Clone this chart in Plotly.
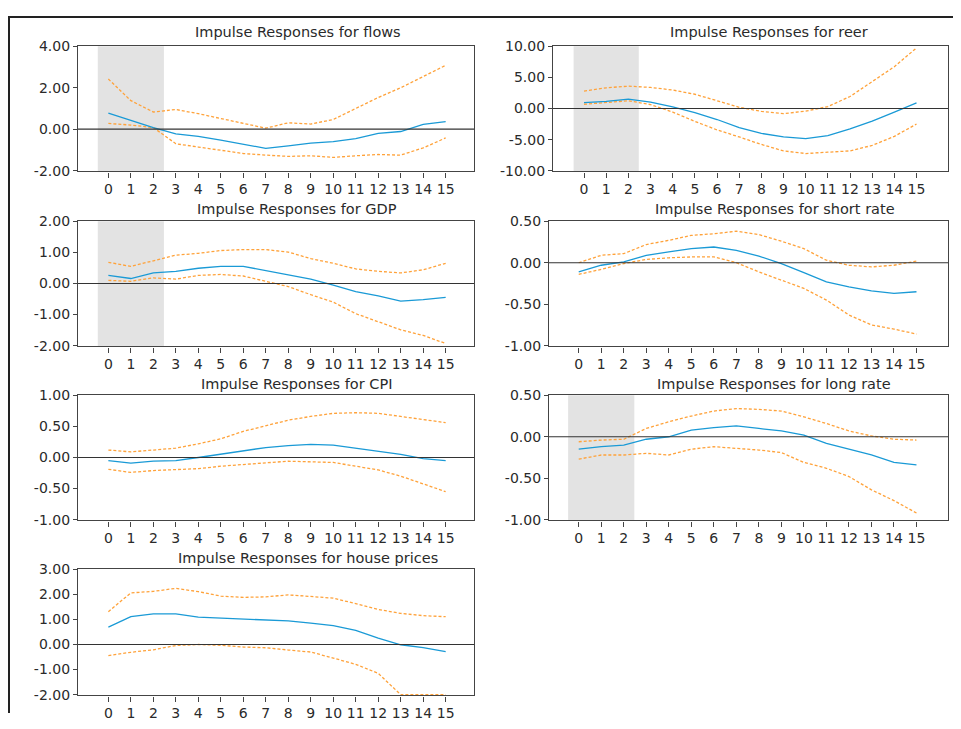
import plotly.graph_objects as go

# the page adds an 8px margin round the figure, so the figure is made that
# much smaller and placed using screen pixels minus the offset
OFF = 8
W, H = 961 - 2 * OFF, 729 - 2 * OFF

steps = list(range(16))

titles = ["flows", "reer", "GDP", "short rate", "CPI", "long rate", "house prices"]

flows = [0.78, 0.44, 0.08, -0.22, -0.34, -0.53, -0.73, -0.92, -0.80, -0.67, -0.60, -0.45, -0.20, -0.11, 0.23, 0.37]
flows_hi = [2.42, 1.38, 0.83, 0.95, 0.75, 0.52, 0.28, 0.05, 0.31, 0.25, 0.47, 1.00, 1.53, 2.00, 2.55, 3.08]
flows_lo = [0.28, 0.20, 0.08, -0.70, -0.86, -1.00, -1.17, -1.25, -1.31, -1.28, -1.36, -1.28, -1.22, -1.25, -0.90, -0.42]

reer = [0.94, 1.15, 1.50, 1.04, 0.26, -0.68, -1.77, -3.07, -4.00, -4.58, -4.84, -4.37, -3.28, -2.03, -0.57, 0.89]
reer_hi = [2.81, 3.33, 3.59, 3.39, 2.97, 2.29, 1.25, 0.20, -0.47, -0.83, -0.42, 0.31, 1.93, 4.32, 6.72, 9.74]
reer_lo = [0.68, 0.99, 1.25, 0.63, -0.57, -2.08, -3.44, -4.58, -5.78, -6.82, -7.24, -7.03, -6.82, -5.94, -4.48, -2.50]

gdp = [0.26, 0.16, 0.34, 0.39, 0.49, 0.55, 0.55, 0.42, 0.28, 0.14, -0.05, -0.26, -0.40, -0.57, -0.52, -0.45]
gdp_hi = [0.68, 0.55, 0.73, 0.91, 0.97, 1.06, 1.09, 1.09, 1.01, 0.80, 0.65, 0.47, 0.39, 0.34, 0.44, 0.65]
gdp_lo = [0.10, 0.07, 0.18, 0.14, 0.26, 0.29, 0.24, 0.07, -0.10, -0.36, -0.60, -0.97, -1.23, -1.49, -1.67, -1.93]

srate = [-0.11, -0.03, 0.01, 0.09, 0.13, 0.17, 0.19, 0.15, 0.08, -0.01, -0.12, -0.23, -0.29, -0.34, -0.37, -0.35]
srate_hi = [0.00, 0.09, 0.11, 0.22, 0.27, 0.33, 0.35, 0.38, 0.34, 0.26, 0.17, 0.03, -0.03, -0.05, -0.03, 0.02]
srate_lo = [-0.14, -0.08, -0.01, 0.04, 0.06, 0.07, 0.07, 0.00, -0.11, -0.21, -0.31, -0.45, -0.63, -0.75, -0.80, -0.86]

cpi = [-0.05, -0.09, -0.06, -0.05, 0.00, 0.05, 0.10, 0.16, 0.19, 0.21, 0.20, 0.15, 0.11, 0.05, -0.02, -0.05]
cpi_hi = [0.12, 0.09, 0.12, 0.15, 0.22, 0.30, 0.42, 0.51, 0.60, 0.66, 0.71, 0.72, 0.71, 0.66, 0.61, 0.56]
cpi_lo = [-0.19, -0.24, -0.21, -0.20, -0.18, -0.14, -0.11, -0.08, -0.06, -0.07, -0.08, -0.14, -0.20, -0.30, -0.43, -0.55]

lrate = [-0.15, -0.12, -0.10, -0.03, 0.00, 0.08, 0.11, 0.13, 0.10, 0.07, 0.02, -0.08, -0.15, -0.22, -0.31, -0.34]
lrate_hi = [-0.06, -0.04, -0.03, 0.10, 0.18, 0.25, 0.31, 0.34, 0.33, 0.31, 0.24, 0.16, 0.07, 0.01, -0.03, -0.04]
lrate_lo = [-0.27, -0.22, -0.22, -0.20, -0.22, -0.15, -0.12, -0.14, -0.16, -0.19, -0.31, -0.38, -0.48, -0.64, -0.77, -0.92]

house = [0.69, 1.11, 1.22, 1.22, 1.09, 1.05, 1.01, 0.97, 0.94, 0.85, 0.75, 0.56, 0.25, -0.01, -0.12, -0.28]
house_hi = [1.31, 2.06, 2.12, 2.24, 2.11, 1.93, 1.88, 1.90, 1.98, 1.93, 1.85, 1.63, 1.40, 1.24, 1.15, 1.11]
house_lo = [-0.44, -0.31, -0.21, -0.04, 0.00, -0.03, -0.10, -0.13, -0.22, -0.30, -0.54, -0.79, -1.15, -2.00, -2.00, -2.00]

yticks = [
    [-2, 0, 2, 4],
    [-10, -5, 0, 5, 10],
    [-2, -1, 0, 1, 2],
    [-1.0, -0.5, 0, 0.5],
    [-1.0, -0.5, 0, 0.5, 1.0],
    [-1.0, -0.5, 0, 0.5],
    [-2, -1, 0, 1, 2, 3],
]

series = [
    (flows, flows_hi, flows_lo),
    (reer, reer_hi, reer_lo),
    (gdp, gdp_hi, gdp_lo),
    (srate, srate_hi, srate_lo),
    (cpi, cpi_hi, cpi_lo),
    (lrate, lrate_hi, lrate_lo),
    (house, house_hi, house_lo),
]

shaded = [True, True, True, False, False, True, False]

# plot boxes as seen on screen (px): left, right, top, bottom
boxes = [
    (78, 474, 39, 167),
    (553, 948, 39, 167),
    (78, 474, 218, 346),
    (549, 948, 218, 346),
    (78, 474, 396, 524),
    (549, 948, 396, 524),
    (78, 474, 574, 703),
]
xranges = [
    [-1.35, 16.26],
    [-1.40, 16.42],
    [-1.35, 16.26],
    [-1.32, 16.40],
    [-1.35, 16.26],
    [-1.32, 16.40],
    [-1.35, 16.26],
]
title_x = [297.5, 769, 296.7, 775, 296.7, 773.5, 307.5]
title_y = [24, 24, 205, 205, 384, 384, 562]

BLUE = "#1a9ad6"
ORANGE = "#ffa23a"
FONT = "DejaVu Sans"
TXT = "#2a2a2a"


def px(x):
    return (x - OFF) / W


def py_(y):
    return 1 - (y - OFF) / H


fig = go.Figure()
annotations = []
shapes = []

for i in range(7):
    n = "" if i == 0 else str(i + 1)
    xa, ya = "x" + n, "y" + n
    resp, hi, lo = series[i]
    for band in (hi, lo):
        fig.add_trace(go.Scatter(x=steps, y=band, mode="lines", xaxis=xa, yaxis=ya,
                                 line=dict(color=ORANGE, width=1.3, dash="3px,2px"),
                                 showlegend=False, hoverinfo="skip"))
    fig.add_trace(go.Scatter(x=steps, y=resp, mode="lines", xaxis=xa, yaxis=ya,
                             line=dict(color=BLUE, width=1.3), showlegend=False))

    l, r, t, b = boxes[i]
    lo_t, hi_t = yticks[i][0], yticks[i][-1]
    # a hair of room below so a band clipped at the floor still shows
    pad = 0.006 * (hi_t - lo_t)
    ticktext = ["{:.2f}".format(v) for v in yticks[i]]
    fig.layout["xaxis" + n] = dict(
        domain=[px(l), px(r)], range=xranges[i], anchor=ya,
        tickvals=steps, ticks="outside", ticklen=5, tickcolor="#444",
        showgrid=False, zeroline=False, showline=True, linecolor="#444",
        linewidth=1.2, mirror=True,
        tickfont=dict(family=FONT, size=14, color=TXT),
    )
    fig.layout["yaxis" + n] = dict(
        domain=[py_(b), py_(t)], range=[lo_t - pad, hi_t], anchor=xa,
        tickvals=yticks[i], ticktext=ticktext, ticks="outside", ticklen=4,
        tickcolor="#444", showgrid=False, zeroline=False, showline=True,
        linecolor="#444", linewidth=1.2, mirror=True,
        tickfont=dict(family=FONT, size=14, color=TXT),
    )

    if shaded[i]:
        shapes.append(dict(type="rect", xref=xa, yref=ya + " domain", x0=-0.47, x1=2.47,
                           y0=0, y1=1, fillcolor="#e3e3e3", line_width=0, layer="below"))
    shapes.append(dict(type="line", xref=xa + " domain", yref=ya, x0=0, x1=1, y0=0, y1=0,
                       line=dict(color="#333", width=1.2)))

    annotations.append(dict(text="Impulse Responses for " + titles[i], xref="paper",
                            yref="paper", x=px(title_x[i]), y=py_(title_y[i]),
                            xanchor="center", yanchor="middle", showarrow=False,
                            font=dict(family=FONT, size=14.5, color=TXT)))

# outer frame of the page, top and left edges as close as the page allows
shapes.append(dict(type="line", xref="paper", yref="paper", x0=0, x1=1,
                   y0=1 - 1 / H, y1=1 - 1 / H, line=dict(color="#222", width=2)))
shapes.append(dict(type="line", xref="paper", yref="paper", x0=1 / W, x1=1 / W,
                   y0=1, y1=0, line=dict(color="#222", width=2)))

fig.update_layout(
    width=W, height=H,
    margin=dict(l=0, r=0, t=0, b=0),
    paper_bgcolor="white", plot_bgcolor="white",
    annotations=annotations, shapes=shapes,
    font=dict(family=FONT),
)

fig.write_html("out.html")
